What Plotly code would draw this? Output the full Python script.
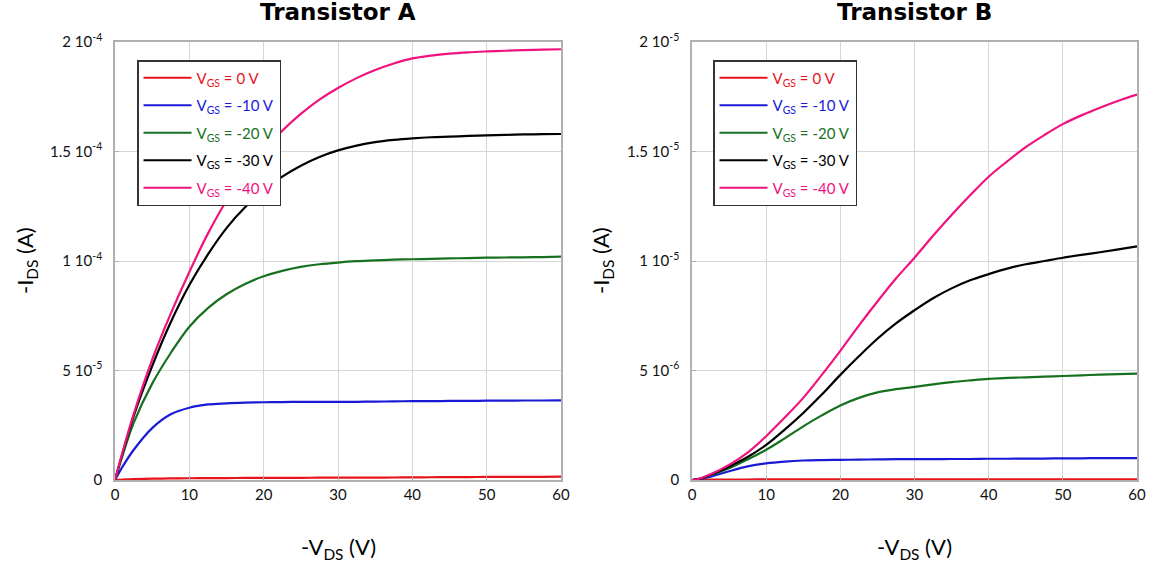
import plotly.graph_objects as go

# ---------------- data ----------------
vds = [0, 1, 2.5, 5, 7.5, 10, 12.5, 15, 17.5, 20, 22.5, 25, 27.5, 30,
       32.5, 35, 37.5, 40, 42.5, 45, 47.5, 50, 52.5, 55, 57.5, 60]

vgs_labels = ["0", "-10", "-20", "-30", "-40"]
colors = ["#e8141c", "#1a1ad6", "#17701f", "#000000", "#f0127f"]

# Transistor A, -I_DS in units of 1e-4 A
a_vgs0  = [0, .002, .004, .006, .007, .008, .0085, .009, .0095, .010, .010, .010, .0105, .011,
           .011, .011, .0115, .012, .0125, .013, .0135, .014, .014, .014, .0145, .015]
a_vgs10 = [0, .060, .137, .237, .300, .330, .345, .350, .353, .355, .356, .357, .357, .357,
           .357, .358, .359, .360, .360, .361, .361, .362, .362, .363, .363, .364]
a_vgs20 = [0, .110, .260, .440, .580, .700, .785, .848, .895, .930, .955, .973, .985, .993,
           .999, 1.003, 1.006, 1.008, 1.010, 1.012, 1.013, 1.015, 1.016, 1.017, 1.018, 1.020]
a_vgs30 = [0, .120, .290, .520, .720, .890, 1.030, 1.150, 1.245, 1.320, 1.385, 1.435, 1.475, 1.505,
           1.527, 1.543, 1.553, 1.560, 1.565, 1.568, 1.571, 1.574, 1.576, 1.578, 1.579, 1.580]
a_vgs40 = [0, .125, .300, .550, .760, .950, 1.125, 1.275, 1.400, 1.505, 1.595, 1.672, 1.737, 1.790,
           1.835, 1.872, 1.902, 1.925, 1.938, 1.947, 1.953, 1.957, 1.960, 1.963, 1.965, 1.967]

# Transistor B, -I_DS in units of 1e-5 A
b_vgs0  = [0, .001, .002, .002, .002, .003, .003, .003, .003, .003, .003, .003, .003, .003,
           .003, .003, .003, .003, .003, .003, .003, .003, .003, .003, .003, .003]
b_vgs10 = [0, .004, .015, .040, .062, .076, .084, .089, .091, .092, .093, .094, .095, .095,
           .095, .096, .096, .097, .097, .098, .098, .099, .099, .100, .100, .100]
b_vgs20 = [0, .005, .022, .054, .094, .138, .190, .245, .295, .340, .375, .400, .415, .425,
           .437, .447, .455, .462, .466, .469, .472, .475, .478, .481, .483, .486]
b_vgs30 = [0, .005, .024, .061, .105, .160, .230, .306, .390, .480, .565, .645, .715, .775,
           .830, .875, .912, .940, .965, .985, 1.000, 1.015, 1.028, 1.040, 1.053, 1.067]
b_vgs40 = [0, .006, .026, .069, .125, .200, .285, .375, .480, .590, .705, .815, .920, 1.015,
           1.115, 1.210, 1.300, 1.385, 1.455, 1.520, 1.575, 1.625, 1.665, 1.700, 1.732, 1.760]

a_scale = 1e-4
b_scale = 1e-5

x_ticks = [0, 10, 20, 30, 40, 50, 60]
a_yticks = [0, 5e-5, 1e-4, 1.5e-4, 2e-4]
a_yticktext = ["0", "5 10<sup>-5</sup>", "1 10<sup>-4</sup>", "1.5 10<sup>-4</sup>", "2 10<sup>-4</sup>"]
b_yticks = [0, 5e-6, 1e-5, 1.5e-5, 2e-5]
b_yticktext = ["0", "5 10<sup>-6</sup>", "1 10<sup>-5</sup>", "1.5 10<sup>-5</sup>", "2 10<sup>-5</sup>"]

titles = ["Transistor A", "Transistor B"]

FONT = "Lato"
W, H = 1155, 571

fig = go.Figure()

a_series = [a_vgs0, a_vgs10, a_vgs20, a_vgs30, a_vgs40]
b_series = [b_vgs0, b_vgs10, b_vgs20, b_vgs30, b_vgs40]

for i, (lab, col, ys) in enumerate(zip(vgs_labels, colors, a_series)):
    fig.add_trace(go.Scatter(
        x=vds, y=[v * a_scale for v in ys], mode="lines",
        line=dict(color=col, width=2.2, shape="spline", smoothing=1.0),
        name=f"<span style='color:{col}'>V<sub>GS</sub> = {lab} V</span>",
        legendgroup=f"a{i}", xaxis="x", yaxis="y", legend="legend"))

for i, (lab, col, ys) in enumerate(zip(vgs_labels, colors, b_series)):
    fig.add_trace(go.Scatter(
        x=vds, y=[v * b_scale for v in ys], mode="lines",
        line=dict(color=col, width=2.2, shape="spline", smoothing=1.0),
        name=f"<span style='color:{col}'>V<sub>GS</sub> = {lab} V</span>",
        legendgroup=f"b{i}", xaxis="x2", yaxis="y2", legend="legend2"))

left_dom = [115 / W, 561 / W]
right_dom = [692 / W, 1137 / W]
y_dom = [(H - 480) / H, (H - 42) / H]

axis_common = dict(
    showgrid=True, gridcolor="#d6d6d6", gridwidth=1,
    showline=True, linecolor="#b0b0b0", linewidth=1.5, mirror=True,
    ticks="inside", ticklen=4, tickcolor="#b0b0b0",
    zeroline=False, automargin=False,
    tickfont=dict(family=FONT, size=15, color="#111"),
)

legend_common = dict(
    xanchor="left", yanchor="top",
    bgcolor="white", bordercolor="#333", borderwidth=1.5,
    font=dict(family=FONT, size=15), tracegroupgap=5, itemwidth=48,
)

fig.update_layout(
    width=W, height=H,
    margin=dict(l=0, r=0, t=0, b=0, autoexpand=False),
    paper_bgcolor="white", plot_bgcolor="white",
    showlegend=True,
    xaxis=dict(domain=left_dom, range=[0, 60], tickvals=x_ticks, anchor="y", **axis_common),
    yaxis=dict(domain=y_dom, range=[0, 2e-4], tickvals=a_yticks, ticktext=a_yticktext,
               anchor="x", ticklabelstandoff=8, **axis_common),
    xaxis2=dict(domain=right_dom, range=[0, 60], tickvals=x_ticks, anchor="y2", **axis_common),
    yaxis2=dict(domain=y_dom, range=[0, 2e-5], tickvals=b_yticks, ticktext=b_yticktext,
                anchor="x2", ticklabelstandoff=8, **axis_common),
    legend=dict(x=137 / W, y=1 - 60 / H, **legend_common),
    legend2=dict(x=713 / W, y=1 - 60 / H, **legend_common),
)

# subplot titles and x axis titles
for t, dom in zip(titles, [left_dom, right_dom]):
    fig.add_annotation(text=f"<b>{t}</b>", x=(dom[0] + dom[1]) / 2, y=1 - 12 / H,
                       xref="paper", yref="paper", showarrow=False,
                       font=dict(family="DejaVu Sans", size=23, color="#000"),
                       xanchor="center", yanchor="middle")
    fig.add_annotation(text="-V<sub>DS</sub> (V)", x=(dom[0] + dom[1]) / 2, y=1 - 548 / H,
                       xref="paper", yref="paper", showarrow=False,
                       font=dict(family=FONT, size=22, color="#000"),
                       xanchor="center", yanchor="middle")

# y axis titles
for xpx in [26, 602]:
    fig.add_annotation(text="-I<sub>DS</sub> (A)", x=xpx / W, y=(y_dom[0] + y_dom[1]) / 2,
                       xref="paper", yref="paper", showarrow=False, textangle=-90,
                       font=dict(family=FONT, size=22, color="#000"),
                       xanchor="center", yanchor="middle")

fig.write_html("out.html", config={"displayModeBar": False},
               post_script="document.body.style.margin='0px';")
